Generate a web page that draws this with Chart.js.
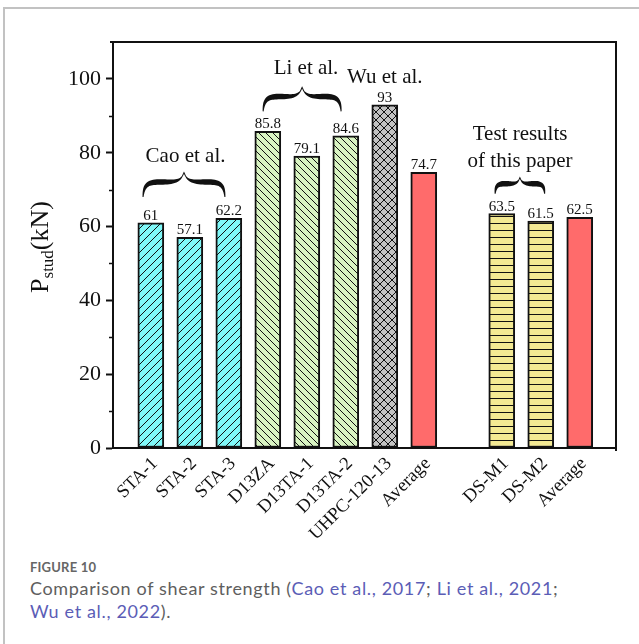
<!DOCTYPE html>
<html>
<head>
<meta charset="utf-8">
<title>Figure 10</title>
<script src="https://cdn.jsdelivr.net/npm/chart.js@4.4.1/dist/chart.umd.min.js"></script>
<style>
  html, body { margin: 0; padding: 0; background: #fff; }
  #page { position: relative; width: 639px; height: 644px; overflow: hidden; }
  #frame { position: absolute; left: 3px; top: 7px; right: -2px; bottom: -2px;
           border-left: 2px solid #c2c2c2; border-top: 2px solid #c2c2c2; }
  #chart { position: absolute; left: 0; top: 0; }
  #caption { position: absolute; left: 30px; top: 559px; font-family: Lato, sans-serif; color: #5e5e5e; }
  #caption .fig { font-size: 13px; font-weight: bold; color: #666; letter-spacing: 0.2px; }
  #caption .txt { font-size: 18px; line-height: 23px; margin-top: 2px; letter-spacing: 0.65px; }
  #caption a { color: #5b5db6; text-decoration: none; }
</style>
</head>
<body>
<div id="page">
  <div id="frame"></div>
  <canvas id="chart" width="639" height="540"></canvas>
  <div id="caption">
    <div class="fig">FIGURE 10</div>
    <div class="txt">Comparison of shear strength (<a>Cao et al., 2017</a>; <a>Li et al., 2021</a>;<br><a>Wu et al., 2022</a>).</div>
  </div>
</div>
<script>
// data
const categories = ['STA-1', 'STA-2', 'STA-3', 'D13ZA', 'D13TA-1', 'D13TA-2', 'UHPC-120-13', 'Average', '', 'DS-M1', 'DS-M2', 'Average'];
const values = [61, 57.1, 62.2, 85.8, 79.1, 84.6, 93, 74.7, null, 63.5, 61.5, 62.5];
const groups = ['cao', 'cao', 'cao', 'li', 'li', 'li', 'wu', 'avg', null, 'dsm', 'dsm', 'avg'];
const yTicks = [0, 20, 40, 60, 80, 100];
const yMinor = [10, 30, 50, 70, 90];

const SERIF = "'Liberation Serif', 'Times New Roman', serif";
const INK = '#111';

// hatch fills
function hatch(bg, size, draw) {
  const c = document.createElement('canvas');
  c.width = c.height = size;
  const g = c.getContext('2d');
  g.fillStyle = bg;
  g.fillRect(0, 0, size, size);
  g.strokeStyle = INK;
  g.fillStyle = INK;
  g.lineWidth = 1;
  draw(g, size);
  return g.createPattern(c, 'repeat');
}
function slash(g, s) {
  g.beginPath();
  g.moveTo(0, s); g.lineTo(s, 0);
  g.moveTo(-1, 1); g.lineTo(1, -1);
  g.moveTo(s - 1, s + 1); g.lineTo(s + 1, s - 1);
  g.stroke();
}
function backslash(g, s) {
  g.beginPath();
  g.moveTo(0, 0); g.lineTo(s, s);
  g.moveTo(-1, s - 1); g.lineTo(1, s + 1);
  g.moveTo(s - 1, -1); g.lineTo(s + 1, 1);
  g.stroke();
}

const styles = {
  cao: hatch('#7ff8f8', 8, slash),
  li: hatch('#d9f4c2', 7, backslash),
  wu: hatch('#c2c2c2', 8, (g, s) => { slash(g, s); backslash(g, s); }),
  avg: '#ff6b6b',
  dsm: hatch('#f3e993', 7, (g, s) => g.fillRect(0, s - 1, s, 1))
};

const points = [], fills = [], labels = [];
values.forEach((v, i) => {
  if (v == null) return;
  points.push({ x: i, y: v });
  fills.push(styles[groups[i]]);
  labels.push(String(v));
});

// annotations above the bar groups (data units)
const notes = [
  { lines: ['Cao et al.'], x: 0.89, y: [79], brace: [-0.2, 1.9, 68, 74.8] },
  { lines: ['Li et al.'], x: 3.98, y: [102.8], brace: [2.88, 4.88, 91.2, 97.9] },
  { lines: ['Wu et al.'], x: 6.0, y: [100.4] },
  { lines: ['Test results', 'of this paper'], x: 9.47, y: [84.9, 77.6], brace: [8.83, 10.1, 68.9, 73.4] }
];

function cubic(p, t) {
  const u = 1 - t;
  return [0, 1].map(k => u * u * u * p[0][k] + 3 * u * u * t * p[1][k] + 3 * u * t * t * p[2][k] + t * t * t * p[3][k]);
}

// tapered curly brace, ends at yEnd, point at yTip
function brace(ctx, x1, x2, yEnd, yTip) {
  const w = x2 - x1, xm = (x1 + x2) / 2, h = yEnd - yTip, ym = yEnd - 0.6 * h;
  const segs = [
    [[x1, yEnd], [x1 + 0.01 * w, ym + 0.05 * h], [x1 + 0.08 * w, ym], [x1 + 0.22 * w, ym]],
    [[x1 + 0.22 * w, ym], [x1 + 0.36 * w, ym], [xm - 0.03 * w, ym + 0.02 * h], [xm, yTip]]
  ];
  const half = [];
  segs.forEach((sg, j) => {
    for (let i = (j ? 1 : 0); i <= 16; i++) half.push(cubic(sg, i / 16));
  });
  const n = half.length;
  const pts = half.concat(half.slice(0, n - 1).reverse().map(p => [2 * xm - p[0], p[1]]));
  const widthAt = k => {
    const s = k < n ? k / (n - 1) : (2 * (n - 1) - k) / (n - 1);
    return 1 + 4.6 * Math.pow(Math.sin(Math.PI * Math.min(1, s * 1.1)), 1.1);
  };
  const up = [], dn = [];
  pts.forEach((p, k) => {
    const a = pts[Math.max(0, k - 1)], b = pts[Math.min(pts.length - 1, k + 1)];
    let dx = b[0] - a[0], dy = b[1] - a[1];
    const len = Math.hypot(dx, dy) || 1;
    const nx = -dy / len, ny = dx / len, hw = widthAt(k) / 2;
    up.push([p[0] + nx * hw, p[1] + ny * hw]);
    dn.push([p[0] - nx * hw, p[1] - ny * hw]);
  });
  ctx.beginPath();
  up.forEach((p, k) => k ? ctx.lineTo(p[0], p[1]) : ctx.moveTo(p[0], p[1]));
  dn.reverse().forEach(p => ctx.lineTo(p[0], p[1]));
  ctx.closePath();
  ctx.fill();
}

const decor = {
  id: 'decor',
  afterDraw(chart) {
    const { ctx, chartArea: a, scales: { x, y } } = chart;
    ctx.save();
    ctx.strokeStyle = INK;
    ctx.fillStyle = INK;

    // frame top/right
    ctx.lineWidth = 2;
    ctx.beginPath();
    ctx.moveTo(a.left - 3, a.top);
    ctx.lineTo(a.right, a.top);
    ctx.lineTo(a.right, a.bottom + 3);
    ctx.stroke();

    // minor ticks
    ctx.lineWidth = 1.5;
    ctx.beginPath();
    yMinor.forEach(v => {
      const py = Math.round(y.getPixelForValue(v)) + 0.5;
      ctx.moveTo(a.left - 4, py);
      ctx.lineTo(a.left, py);
    });
    ctx.stroke();

    // value labels
    ctx.font = '15px ' + SERIF;
    ctx.textAlign = 'center';
    ctx.textBaseline = 'alphabetic';
    chart.getDatasetMeta(0).data.forEach((el, i) => {
      ctx.fillText(labels[i], el.x, el.y - 3);
    });

    // group notes and braces
    ctx.font = '21px ' + SERIF;
    ctx.textBaseline = 'middle';
    notes.forEach(n => {
      n.lines.forEach((t, k) => ctx.fillText(t, x.getPixelForValue(n.x), y.getPixelForValue(n.y[k])));
      if (n.brace) {
        const [b1, b2, e, tip] = n.brace;
        brace(ctx, x.getPixelForValue(b1), x.getPixelForValue(b2), y.getPixelForValue(e), y.getPixelForValue(tip));
      }
    });

    // y-axis title with subscript
    const big = '26px ' + SERIF, small = '17px ' + SERIF;
    ctx.font = big; const wP = ctx.measureText('P').width, wU = ctx.measureText('(kN)').width;
    ctx.font = small; const wS = ctx.measureText('stud').width;
    const total = wP + wS + wU;
    ctx.translate(48, (a.top + a.bottom) / 2 + 2);
    ctx.rotate(-Math.PI / 2);
    ctx.textAlign = 'left';
    ctx.textBaseline = 'alphabetic';
    let cx = -total / 2;
    ctx.font = big; ctx.fillText('P', cx, 0); cx += wP;
    ctx.font = small; ctx.fillText('stud', cx, 5); cx += wS;
    ctx.font = big; ctx.fillText('(kN)', cx, 0);
    ctx.restore();
  }
};

new Chart(document.getElementById('chart'), {
  type: 'bar',
  data: {
    datasets: [{
      data: points,
      backgroundColor: fills,
      borderColor: INK,
      borderWidth: 2,
      borderSkipped: false,
      barThickness: 26
    }]
  },
  options: {
    responsive: false,
    animation: false,
    devicePixelRatio: 1,
    layout: { padding: { top: 42, right: 23, left: 0, bottom: 0 } },
    plugins: { legend: { display: false }, tooltip: { enabled: false } },
    scales: {
      x: {
        type: 'linear',
        offset: false,
        min: -0.97,
        max: 11.93,
        bounds: 'data',
        grid: { display: false, drawTicks: false, offset: false },
        border: { display: true, color: INK, width: 2 },
        afterBuildTicks: s => { s.ticks = categories.map((c, i) => ({ value: i })); },
        afterFit: s => { s.height = 92; },
        ticks: {
          autoSkip: false,
          minRotation: 45,
          maxRotation: 45,
          padding: 5,
          labelOffset: 4,
          color: INK,
          font: { family: SERIF, size: 18.5 },
          callback: v => categories[v]
        }
      },
      y: {
        min: 0,
        max: 110,
        afterBuildTicks: s => { s.ticks = yTicks.map(v => ({ value: v })); },
        afterFit: s => { s.width = 113; },
        grid: { drawOnChartArea: false, tickLength: 7, tickColor: INK, tickWidth: 2 },
        border: { display: true, color: INK, width: 2 },
        ticks: { padding: 5, color: INK, font: { family: SERIF, size: 22 } }
      }
    }
  },
  plugins: [decor]
});
</script>
</body>
</html>
